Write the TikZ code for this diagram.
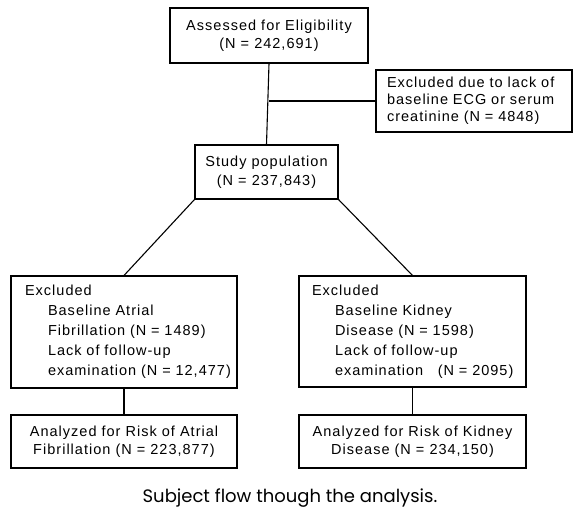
\documentclass[tikz,border=0pt]{standalone}
\usepackage{fontspec}
\setmainfont{Liberation Sans}
\newfontfamily\boxfont[LetterSpace=7]{Liberation Sans}
\newfontfamily\capfont{Poppins}
\begin{document}
\begin{tikzpicture}[x=1pt,y=-1pt,
  box/.style={draw=black, line width=1.1pt, rectangle, inner sep=0pt, align=center,
    font=\boxfont\fontsize{14.5}{18}\selectfont},
  lbox/.style={box, align=left},
  link/.style={draw=black, line width=1.1pt}]
\useasboundingbox[fill=white] (0,0) rectangle (580,520);
\node[box, minimum width=198pt, minimum height=55pt] (top) at (269,35.5)
  {Assessed for Eligibility\\(N = 242,691)};
\node[lbox, minimum width=196pt, minimum height=62pt, text width=174pt,
  font=\boxfont\fontsize{14.5}{17}\selectfont] (excl) at (474,101)
  {Excluded due to lack of\\baseline ECG or serum\\creatinine (N = 4848)};
\node[box, minimum width=143pt, minimum height=54pt,
  font=\boxfont\fontsize{14.5}{19}\selectfont] (study) at (266.5,172)
  {Study population\\(N = 237,843)};
\node[lbox, minimum width=226pt, minimum height=112pt, text width=226pt,
  font=\boxfont\fontsize{14.5}{20}\selectfont] (lex) at (124,332)
  {\hspace*{14pt}Excluded\\\hspace*{37pt}Baseline Atrial\\\hspace*{37pt}Fibrillation (N = 1489)\\\hspace*{37pt}Lack of follow-up\\\hspace*{37pt}\mbox{examination (N = 12,477)}};
\node[lbox, minimum width=227pt, minimum height=111pt, text width=227pt,
  font=\boxfont\fontsize{14.5}{20}\selectfont] (rex) at (412.5,331.5)
  {\hspace*{13pt}Excluded\\\hspace*{36pt}Baseline Kidney\\\hspace*{36pt}Disease (N = 1598)\\\hspace*{36pt}Lack of follow-up\\\hspace*{36pt}\mbox{examination\ \ \ (N = 2095)}};
\node[box, minimum width=226pt, minimum height=53pt] (lan) at (124,441.5)
  {Analyzed for Risk of Atrial\\Fibrillation (N = 223,877)};
\node[box, minimum width=227pt, minimum height=53pt] (ran) at (412.5,441.5)
  {Analyzed for Risk of Kidney\\Disease (N = 234,150)};
\node[font=\capfont\fontsize{18}{22}\selectfont] (cap) at (290,498)
  {Subject flow though the analysis.};
\coordinate (br) at (top.south |- excl.west);
\draw[link] (top.south) -- (study.north);
\draw[link] (br) -- (excl.west);
\draw[link] (study.south west) -- (lex.north);
\draw[link] (study.south east) -- (rex.north);
\draw[link] (lex.south) -- (lan.north);
\draw[link] (rex.south) -- (ran.north);
\end{tikzpicture}
\end{document}
